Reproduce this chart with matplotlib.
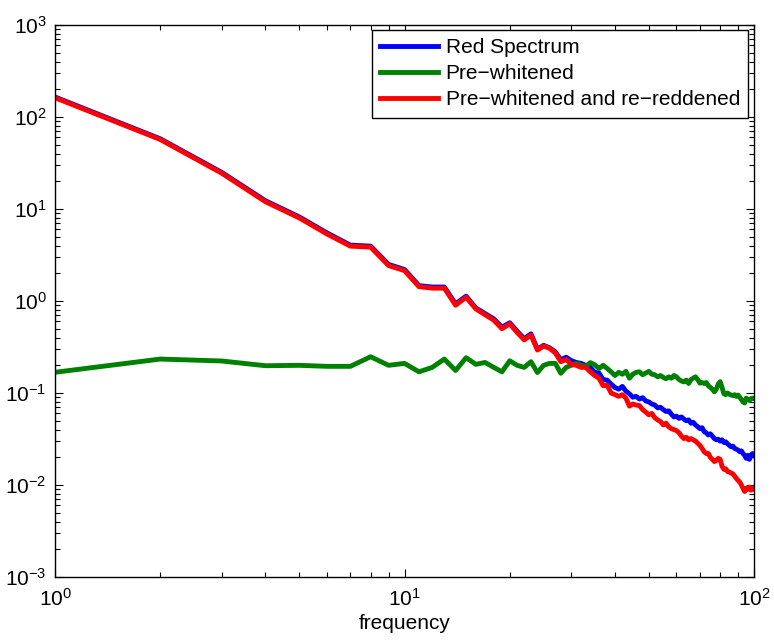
import matplotlib
matplotlib.use("Agg")
import matplotlib.pyplot as plt
from matplotlib.ticker import LogLocator, NullFormatter

plt.rcParams['font.family'] = ['Liberation Sans', 'DejaVu Sans']
plt.rcParams['mathtext.default'] = 'regular'

freq = list(range(1, 101))

red_spectrum = [
    165, 58, 25, 12.3, 8.2, 5.5, 4.05, 3.95, 2.5, 2.2,
    1.47, 1.42, 1.42, 0.93, 1.13, 0.84, 0.73, 0.64, 0.52, 0.58,
    0.47, 0.39, 0.44, 0.30, 0.33, 0.31, 0.28, 0.23, 0.245, 0.225,
    0.215, 0.21, 0.20, 0.19, 0.168, 0.165, 0.14, 0.138, 0.125, 0.115,
    0.110, 0.118, 0.105, 0.098, 0.090, 0.092, 0.086, 0.089, 0.082, 0.080,
    0.076, 0.074, 0.069, 0.070, 0.066, 0.063, 0.064, 0.059, 0.055, 0.056,
    0.053, 0.055, 0.052, 0.050, 0.051, 0.047, 0.048, 0.045, 0.043, 0.041,
    0.042, 0.038, 0.037, 0.035, 0.036, 0.034, 0.032, 0.031, 0.0315, 0.030,
    0.031, 0.029, 0.0295, 0.028, 0.027, 0.026, 0.0265, 0.025, 0.0245, 0.024,
    0.023, 0.0235, 0.022, 0.021, 0.0195, 0.021, 0.019, 0.021, 0.022, 0.021,
]

pre_whitened = [
    0.168, 0.234, 0.223, 0.198, 0.200, 0.195, 0.195, 0.248, 0.200, 0.210,
    0.170, 0.190, 0.234, 0.176, 0.242, 0.205, 0.215, 0.190, 0.170, 0.224,
    0.200, 0.190, 0.219, 0.167, 0.200, 0.210, 0.210, 0.164, 0.190, 0.200,
    0.210, 0.200, 0.195, 0.214, 0.203, 0.185, 0.200, 0.185, 0.170, 0.155,
    0.168, 0.160, 0.172, 0.145, 0.160, 0.168, 0.170, 0.158, 0.165, 0.172,
    0.160, 0.158, 0.150, 0.155, 0.148, 0.143, 0.150, 0.145, 0.155, 0.150,
    0.140, 0.135, 0.132, 0.138, 0.127, 0.140, 0.145, 0.150, 0.140, 0.128,
    0.130, 0.127, 0.130, 0.120, 0.115, 0.110, 0.103, 0.110, 0.125, 0.133,
    0.115, 0.098, 0.096, 0.100, 0.097, 0.095, 0.094, 0.096, 0.092, 0.095,
    0.090, 0.085, 0.080, 0.078, 0.088, 0.085, 0.083, 0.087, 0.088, 0.087,
]

re_reddened = [
    162, 57, 24.5, 12.0, 8.0, 5.35, 3.95, 3.85, 2.43, 2.14,
    1.43, 1.38, 1.38, 0.90, 1.10, 0.82, 0.71, 0.62, 0.50, 0.565,
    0.455, 0.378, 0.427, 0.293, 0.324, 0.306, 0.274, 0.219, 0.232, 0.205,
    0.200, 0.190, 0.190, 0.170, 0.155, 0.145, 0.120, 0.122, 0.100, 0.096,
    0.092, 0.096, 0.088, 0.072, 0.076, 0.074, 0.073, 0.066, 0.062, 0.058,
    0.060, 0.054, 0.051, 0.049, 0.045, 0.047, 0.043, 0.041, 0.040, 0.039,
    0.037, 0.034, 0.032, 0.033, 0.031, 0.032, 0.031, 0.030, 0.0285, 0.027,
    0.025, 0.023, 0.022, 0.022, 0.020, 0.019, 0.018, 0.0185, 0.0195, 0.019,
    0.016, 0.0148, 0.0150, 0.014, 0.0138, 0.0135, 0.0132, 0.0125, 0.0118, 0.0112,
    0.0108, 0.0100, 0.0092, 0.0085, 0.0092, 0.0090, 0.0095, 0.0088, 0.0092, 0.0090,
]

labels = ['Red Spectrum', 'Pre\u2212whitened', 'Pre\u2212whitened and re\u2212reddened']
colors = ['#0000ff', '#008000', '#ff0000']

fig = plt.figure(figsize=(7.74, 6.4), dpi=100)
ax = fig.add_axes([0.0711, 0.0984, 0.9031, 0.8625])

for y, lab, c in zip([red_spectrum, pre_whitened, re_reddened], labels, colors):
    ax.plot(freq, y, color=c, lw=3.5, label=lab, solid_joinstyle='round')

ax.set_xscale('log')
ax.set_yscale('log')
ax.set_xlim(1, 100)
ax.set_ylim(1e-3, 1e3)
ax.yaxis.set_major_locator(LogLocator(base=10, numticks=20))
ax.yaxis.set_minor_locator(LogLocator(base=10, subs=range(2, 10), numticks=20))
ax.yaxis.set_minor_formatter(NullFormatter())
ax.xaxis.set_minor_formatter(NullFormatter())
ax.tick_params(which='both', direction='in', top=True, right=True, labelsize=15, width=0.8)
ax.tick_params(which='major', length=6)
ax.tick_params(which='minor', length=3.5)
ax.tick_params(axis='x', pad=8)
ax.tick_params(axis='y', pad=6)
for s in ax.spines.values():
    s.set_linewidth(1.0)

ax.set_xlabel('frequency', fontsize=15, labelpad=3)

leg = ax.legend(loc='upper right', bbox_to_anchor=(0.992, 0.991), fontsize=15,
                fancybox=False, framealpha=1, edgecolor='black', borderpad=0.4,
                handlelength=2.8, handletextpad=0.35, labelspacing=0.34, borderaxespad=0)
leg.get_frame().set_linewidth(1.0)

fig.savefig('out.png', dpi=100)
